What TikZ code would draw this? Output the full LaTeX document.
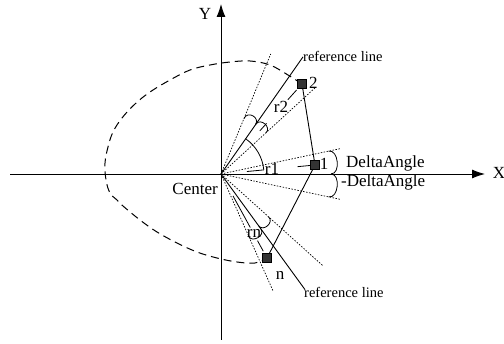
\documentclass[tikz,border=0pt]{standalone}
\usepackage{fontspec}
\setmainfont{Liberation Serif}
\usetikzlibrary{arrows.meta,calc}
\newcommand\angbump[4]{\draw[angmark] ($(c)+(#1:#3pt)$) .. controls ($(c)+(#1:#4pt)$) and ($(c)+(#2:#4pt)$) .. ($(c)+(#2:#3pt)$);}
\begin{document}
\begin{tikzpicture}[x=1pt,y=-1pt,
  axis/.style={line width=0.9pt,-{Latex[length=13pt,width=9pt]}},
  refl/.style={line width=0.9pt},
  dotl/.style={line width=0.7pt,dash pattern=on 1.5pt off 1.5pt},
  dashc/.style={line width=1pt,dash pattern=on 8pt off 5pt},
  poly/.style={line width=0.9pt},
  ptbox/.style={draw=black,fill=black!80,minimum size=9.5pt,inner sep=0pt,line width=0.6pt},
  lab/.style={font=\fontsize{17}{17}\selectfont,inner sep=0pt},
  slab/.style={font=\fontsize{14.5}{14.5}\selectfont,inner sep=0pt},
  angmark/.style={line width=0.8pt}
]
\useasboundingbox (0,0) rectangle (504,344);
\coordinate (c) at (221,174);
\coordinate (xl) at (10,174);
\coordinate (xr) at (485,174);
\coordinate (yb) at (221,340);
\coordinate (yt) at (221,4);

% reference and dotted line ends
\coordinate (refU) at ($(c)+(55:143pt)$);
\coordinate (refD) at ($(c)+(-54:143pt)$);
\coordinate (d2a) at ($(c)+(67.5:130pt)$);
\coordinate (d2b) at ($(c)+(42.5:128pt)$);
\coordinate (d1a) at ($(c)+(12:122pt)$);
\coordinate (d1b) at ($(c)+(-12:122pt)$);
\coordinate (dna) at ($(c)+(-42:138pt)$);
\coordinate (dnb) at ($(c)+(-66:128pt)$);

% points
\path (302,84) coordinate (P2) (315,165) coordinate (P1) (267,258) coordinate (PN);

% dashed contour
\draw[dashc] plot[smooth,tension=0.6] coordinates {(P2) (288,75) (270,65) (250,61) (230,62) (210,65) (190,70) (170,80) (150,92) (135,104) (122,118) (113,132) (108,147) (105,163) (106,180) (110,193) (117,200) (123,206) (140,220) (157,232) (177,243) (197,252) (217,258) (237,262) (255,263) (PN)};

% axes
\draw[axis] (xl) -- (xr);
\draw[axis] (yb) -- (yt);

% reference lines and dotted lines
\draw[refl] (c) -- (refU);
\draw[refl] (c) -- (refD);
\draw[dotl] (c) -- (d2a);
\draw[dotl] (c) -- (d2b);
\draw[dotl] (c) -- (d1a);
\draw[dotl] (c) -- (d1b);
\draw[dotl] (c) -- (dna);
\draw[dotl] (c) -- (dnb);

% polygon
\draw[poly] (P2) -- (P1) -- (PN);

% radius dimension segments
\draw[angmark] ($(c)!58pt!(P2)$) -- ($(c)!68pt!(P2)$);
\draw[angmark] ($(c)!100pt!(P2)$) -- ($(c)!113pt!(P2)$);
\draw[angmark] ($(c)!26pt!(P1)$) -- ($(c)!43pt!(P1)$);
\draw[angmark] ($(c)!77pt!(P1)$) -- ($(c)!90pt!(P1)$);
\draw[angmark] ($(c)!25pt!(PN)$) -- ($(c)!61pt!(PN)$);
\draw[angmark] ($(c)!76pt!(PN)$) -- ($(c)!88pt!(PN)$);

% angle arc
\draw[angmark] ($(c)+(5.5:43pt)$) arc[start angle=5.5,end angle=55,radius=43pt];

% angle braces
\angbump{67.5}{55}{60}{69}
\angbump{55}{42.5}{61}{69}
\angbump{12}{0}{110}{120}
\angbump{0}{-12}{110}{120}
\angbump{-42}{-54}{64}{72}
\angbump{-54}{-66}{68}{76}

% nodes
\node[ptbox] (p2) at (P2) {};
\node[ptbox] (p1) at (P1) {};
\node[ptbox] (pn) at (PN) {};

% labels
\node[lab,anchor=west] (l2) at (309,83) {2};
\node[lab] (l1) at (324,164) {1};
\node[lab] (ln) at (280,275) {n};
\node[lab] (lr2) at (281,107) {r2};
\node[lab] (lr1) at (272,169) {r1};
\node[lab] (lrn) at (254,233) {rn};
\node[lab,anchor=east] (lc) at (218,189) {Center};
\node[lab] (lx) at (499,173) {X};
\node[lab] (ly) at (205,14) {Y};
\node[lab,anchor=west] (lda) at (346,163) {DeltaAngle};
\node[lab,anchor=west] (lmda) at (341,182) {-DeltaAngle};
\node[slab,anchor=west] (lrefu) at (303,56) {reference line};
\node[slab,anchor=west] (lrefd) at (304,292) {reference line};
\end{tikzpicture}
\end{document}
